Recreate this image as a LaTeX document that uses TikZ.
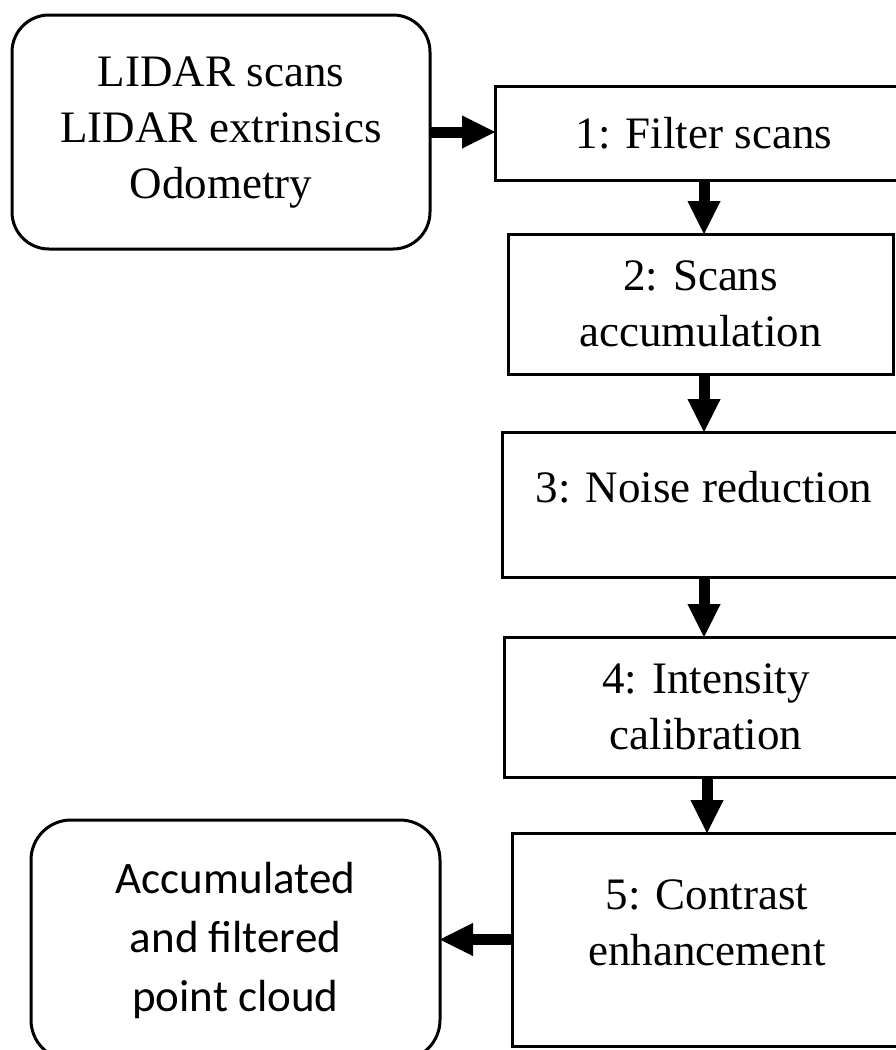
\documentclass[tikz,border=0pt]{standalone}
\usepackage{fontspec}
\setmainfont{Liberation Serif}
\newfontfamily\calibrifont{Carlito}
\usetikzlibrary{arrows.meta}
\begin{document}
\begin{tikzpicture}[x=1pt,y=-1pt,
  box/.style={draw, line width=3pt, inner sep=0pt, outer sep=0pt, align=center,
    font=\fontsize{45pt}{56pt}\selectfont},
  rbox/.style={box, rounded corners=37pt},
  lbl/.style={inner sep=0pt, outer sep=0pt, align=center, font=\fontsize{45pt}{56pt}\selectfont},
  arr/.style={line width=11pt, -{Triangle[length=33pt,width=33pt,line width=1pt]}}]
\useasboundingbox (0,0) rectangle (896,1050);
\clip (0,0) rectangle (896,1050);
% input
\node[rbox, minimum width=418pt, minimum height=234pt] (in) at (221,132)
  {LIDAR scans\\LIDAR extrinsics\\Odometry};
% steps
\node[box, minimum width=418pt, minimum height=94pt] (b1) at (704,133) {1: Filter scans};
\node[box, minimum width=385pt, minimum height=140pt] (b2) at (700.5,304) {2: Scans\\accumulation};
\node[box, minimum width=404pt, minimum height=145pt] (b3) at (704,504.5) {};
\node[lbl] (t3) at (704,487.5) {3: Noise reduction};
\node[box, minimum width=404pt, minimum height=140pt] (b4) at (706,707) {4: Intensity\\calibration};
\node[box, minimum width=390pt, minimum height=213pt] (b5) at (707,939.5) {};
\node[lbl] (t5) at (707,922.5) {5: Contrast\\enhancement};
% output
\node[rbox, rounded corners=40pt, minimum width=409pt, minimum height=240pt,
  font=\calibrifont\fontsize{45pt}{59pt}\selectfont] (out) at (235.5,940)
  {Accumulated\\and filtered\\point cloud};
% connectors
\draw[arr] (in.east) -- (in.east -| b1.west);
\draw[arr] (b1.south) -- (b1.south |- b2.north);
\draw[arr] (b3.north |- b2.south) -- (b3.north);
\draw[arr] (b3.south) -- (b3.south |- b4.north);
\draw[arr] (b5.north |- b4.south) -- (b5.north);
\draw[arr] (b5.west) -- (b5.west -| out.east);
\end{tikzpicture}
\end{document}
